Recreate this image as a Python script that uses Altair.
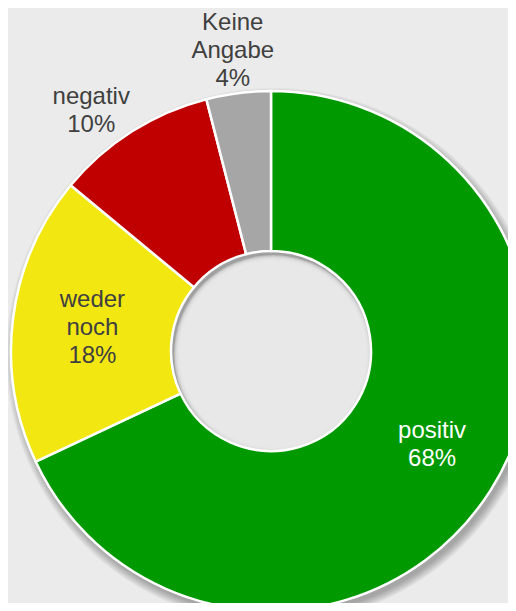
import altair as alt
import pandas as pd

categories = ["positiv", "weder noch", "negativ", "Keine Angabe"]
values = [68, 18, 10, 4]
colors = ["#009900", "#f3e712", "#c00000", "#a6a6a6"]

df = pd.DataFrame({
    "cat": categories,
    "v": values,
    "order": list(range(len(categories))),
})
df["label"] = [c.split(" ") + [f"{v}%"] for c, v in zip(categories, values)]

BG = "#ebebeb"
CX, CY = 263, 343
R_OUT, R_IN = 260, 100
TWO_PI = 6.283185307

dummy = pd.DataFrame({"d": [0]})
base0 = alt.Chart(dummy)

layers = []
# outer drop shadow (soft)
for k in range(9):
    layers.append(
        base0.mark_arc(theta=0, theta2=TWO_PI, radius=R_OUT + 8 - k, radius2=0,
                       color="#000000", opacity=0.035)
        .encode(x=alt.value(CX + 3), y=alt.value(CY + 5))
    )

# inner hole shadow
layers.append(
    base0.mark_arc(theta=0, theta2=TWO_PI, radius=R_IN, radius2=0, color="#a0a0a0")
    .encode(x=alt.value(CX), y=alt.value(CY))
)
for k in range(7):
    layers.append(
        base0.mark_arc(theta=0, theta2=TWO_PI, radius=R_IN - 1 - k, radius2=0,
                       color=BG, opacity=0.4)
        .encode(x=alt.value(CX + 2), y=alt.value(CY + 3))
    )

base = alt.Chart(df)

donut = base.mark_arc(radius=R_OUT, radius2=R_IN, stroke="white", strokeWidth=2.5).encode(
    theta=alt.Theta("v:Q", stack=True),
    order=alt.Order("order:Q"),
    color=alt.Color("cat:N", scale=alt.Scale(domain=categories, range=colors), legend=None),
    x=alt.value(CX),
    y=alt.value(CY),
)
layers.append(donut)

lab = base.transform_window(
    cum="sum(v)", sort=[alt.SortField("order")], frame=[None, 0]
).transform_calculate(
    mid="datum.cum - datum.v / 2"
)

theta_mid = alt.Theta("mid:Q", scale=alt.Scale(domain=[0, 100], range=[0, TWO_PI]), stack=None)

# (category, radius, dx, dy, text colour)
label_style = [
    ("positiv", 186, 4, -20, "white"),
    ("weder noch", 180, 0, -28, "#404040"),
    ("negativ", 300, -19, -1, "#404040"),
    ("Keine Angabe", 305, 0, -25, "#404040"),
]
for cat, rad, ddx, ddy, col in label_style:
    layers.append(
        lab.transform_filter(alt.datum.cat == cat).mark_text(
            radius=rad, dx=ddx, dy=ddy, fontSize=24, lineHeight=28, font="Liberation Sans",
            baseline="middle", align="center", color=col,
        ).encode(
            theta=theta_mid,
            text="label",
            x=alt.value(CX),
            y=alt.value(CY),
        )
    )

chart = alt.layer(*layers).properties(
    width=500, height=595, background=BG, padding=0,
    autosize=alt.AutoSizeParams(type="none"),
).configure_view(stroke=None)

chart.save("out.html", embed_options={"renderer": "svg", "actions": False})
